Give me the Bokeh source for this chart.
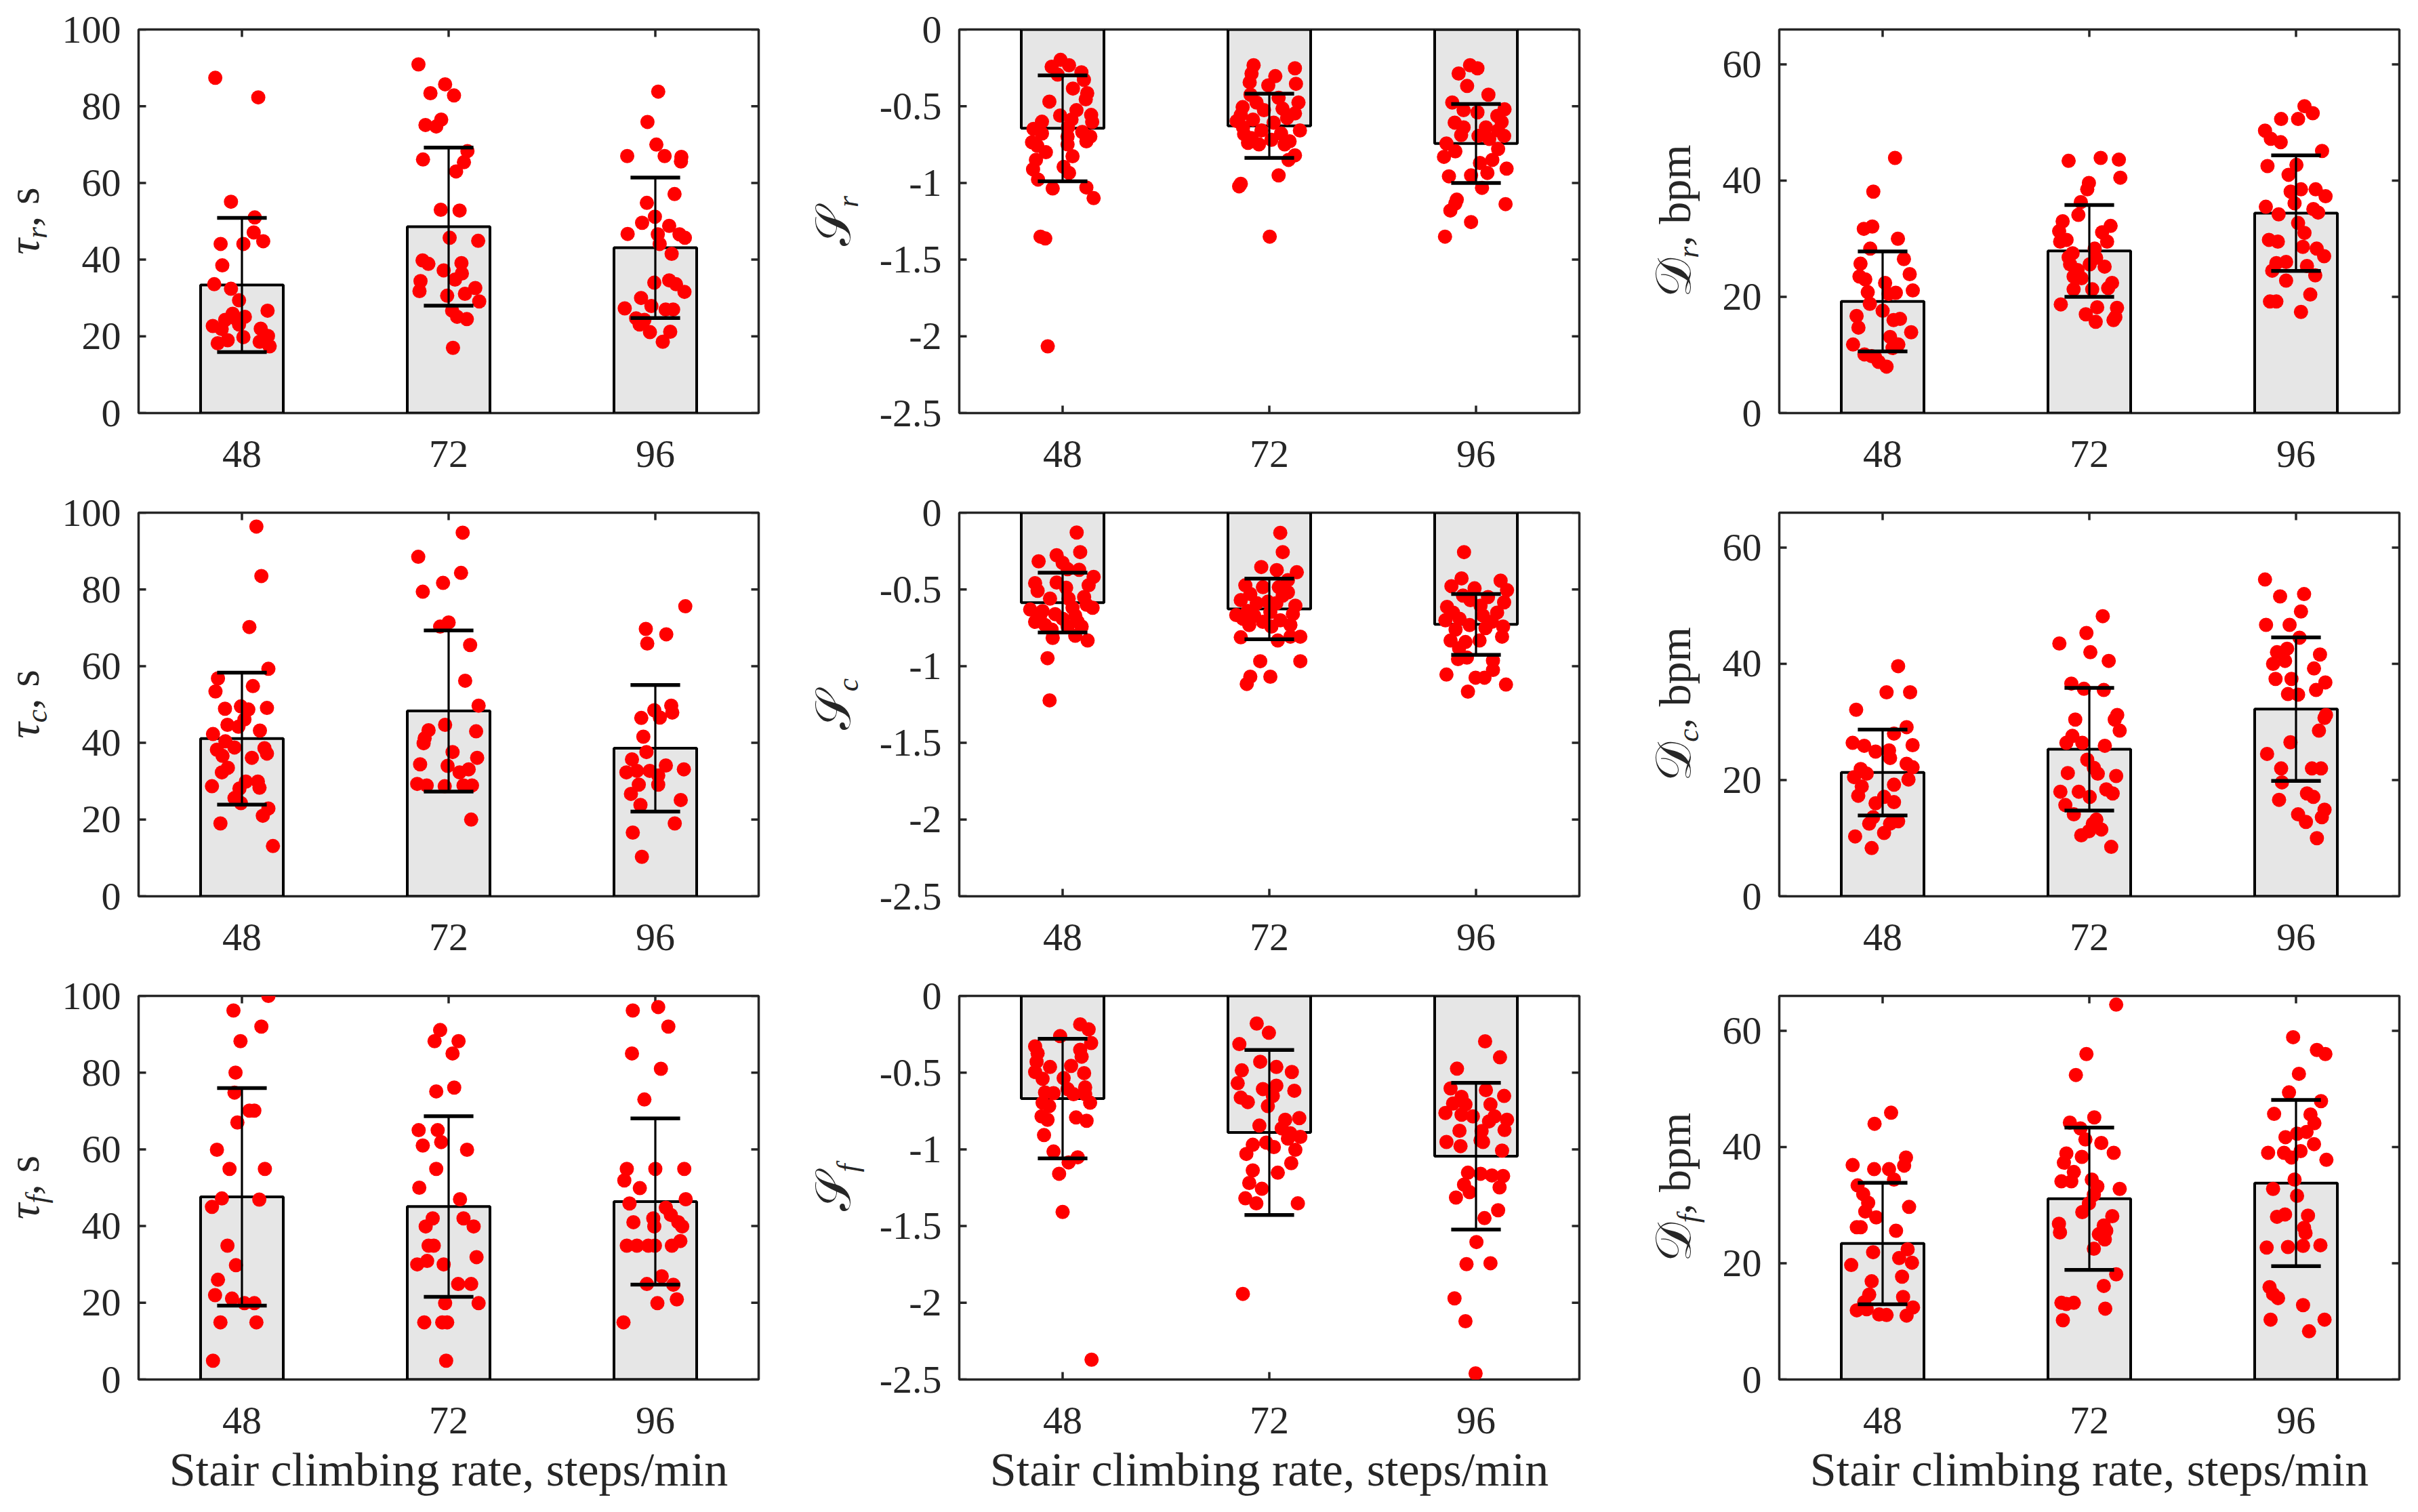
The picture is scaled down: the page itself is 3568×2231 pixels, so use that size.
from bokeh.plotting import figure
from bokeh.models import ColumnDataSource, FixedTicker, CustomJSTickFormatter, Range1d, Div
from bokeh.layouts import row, column
from bokeh.embed import file_html
from bokeh.resources import INLINE

# ---------------- data ----------------
rates = ["48", "72", "96"]
xlabel = "Stair climbing rate, steps/min"

tau_ticks = [0, 20, 40, 60, 80, 100]
s_ticks = [-2.5, -2, -1.5, -1, -0.5, 0]
d_ticks = [0, 20, 40, 60]

# tau_r
tau_r_mean = [33.4, 48.6, 43.1]
tau_r_sd = [17.5, 20.6, 18.3]
tau_r_vals = [
    [87.4, 82.3, 55.1, 51.0, 47.1, 44.1, 44.1, 44.8, 38.5, 33.6, 32.4, 29.4, 26.7, 25.9, 25.1, 24.3, 22.7, 21.9, 22.0, 19.8, 20.1, 18.2, 19.0, 18.6, 17.4, 23.1, 24.7],
    [90.9, 83.4, 85.7, 82.8, 75.1, 76.5, 74.7, 66.1, 68.3, 65.4, 63.0, 53.0, 52.8, 45.7, 44.9, 39.8, 38.9, 39.1, 37.2, 36.4, 34.4, 34.8, 31.8, 32.6, 31.1, 30.6, 29.1, 26.7, 25.1, 24.5, 17.0],
    [83.8, 75.9, 70.0, 67.0, 67.0, 66.8, 65.6, 57.1, 54.8, 51.2, 49.6, 48.8, 46.7, 46.6, 46.6, 45.7, 44.1, 41.5, 34.0, 34.6, 33.6, 31.6, 30.0, 27.9, 27.3, 27.0, 27.0, 24.7, 24.3, 23.1, 21.1, 21.2, 18.6],
]
tau_r_dx = [
    [-0.129, 0.079, -0.053, 0.062, 0.057, -0.103, 0.007, 0.103, -0.095, -0.134, -0.053, -0.014, 0.124, -0.045, 0.014, -0.081, -0.141, -0.098, 0.091, 0.007, 0.126, -0.117, -0.069, 0.086, 0.134, -0.014, -0.033],
    [-0.146, -0.088, -0.017, 0.026, -0.112, -0.036, -0.060, -0.124, 0.091, 0.074, 0.036, -0.038, 0.053, 0.005, 0.143, -0.126, -0.098, 0.062, -0.024, 0.064, -0.136, 0.031, -0.141, 0.129, 0.079, -0.007, 0.148, 0.017, 0.041, 0.088, 0.021],
    [0.014, -0.038, 0.005, -0.136, 0.045, 0.126, 0.124, 0.093, -0.041, -0.002, -0.064, 0.067, -0.134, 0.012, 0.117, 0.143, 0.021, 0.079, -0.005, 0.067, 0.100, 0.141, -0.069, -0.019, -0.148, 0.050, 0.086, -0.093, -0.053, -0.076, -0.026, 0.072, 0.036],
]

# S_r
s_r_mean = [-0.644, -0.628, -0.743]
s_r_sd = [0.345, 0.209, 0.257]
s_r_vals = [
    [-0.198, -0.243, -0.233, -0.294, -0.279, -0.328, -0.385, -0.415, -0.455, -0.470, -0.526, -0.561, -0.557, -0.587, -0.603, -0.601, -0.648, -0.638, -0.668, -0.678, -0.698, -0.698, -0.729, -0.735, -0.759, -0.749, -0.800, -0.826, -0.850, -0.895, -0.911, -0.935, -0.978, -1.036, -1.030, -1.099, -1.350, -1.362, -2.065],
    [-0.233, -0.287, -0.253, -0.304, -0.344, -0.354, -0.364, -0.425, -0.445, -0.476, -0.476, -0.506, -0.516, -0.526, -0.547, -0.557, -0.577, -0.587, -0.597, -0.607, -0.638, -0.658, -0.658, -0.682, -0.678, -0.708, -0.719, -0.729, -0.739, -0.749, -0.749, -0.820, -0.850, -1.006, -1.022, -0.951, -1.350],
    [-0.233, -0.253, -0.287, -0.368, -0.425, -0.476, -0.526, -0.520, -0.540, -0.563, -0.603, -0.607, -0.638, -0.638, -0.658, -0.688, -0.694, -0.694, -0.713, -0.743, -0.794, -0.779, -0.830, -0.850, -0.870, -0.907, -0.935, -0.957, -0.951, -1.032, -1.109, -1.134, -1.138, -1.180, -1.255, -1.350],
]
s_r_dx = [
    [-0.010, -0.053, 0.031, -0.024, 0.091, 0.103, 0.050, 0.119, 0.112, -0.064, 0.067, -0.012, 0.138, 0.043, 0.143, -0.100, -0.141, 0.026, 0.095, -0.100, 0.024, 0.134, 0.115, -0.148, -0.122, 0.024, -0.081, 0.048, -0.129, 0.005, -0.143, 0.031, -0.119, -0.048, 0.115, 0.150, -0.107, -0.084, -0.072],
    [-0.076, -0.086, 0.124, 0.029, -0.095, 0.129, -0.005, -0.091, 0.045, -0.062, 0.141, -0.129, 0.064, -0.026, 0.124, -0.138, 0.086, -0.079, -0.158, 0.021, -0.127, -0.038, 0.148, -0.122, 0.057, -0.086, 0.010, 0.098, -0.103, -0.050, 0.074, 0.124, 0.093, -0.138, -0.146, 0.045, 0.002],
    [-0.029, 0.007, -0.084, -0.043, 0.060, -0.115, -0.060, 0.138, 0.007, 0.103, 0.124, -0.103, 0.048, -0.060, 0.107, -0.072, 0.012, 0.136, 0.064, -0.143, -0.100, 0.107, -0.155, 0.079, 0.019, 0.148, 0.055, -0.131, -0.024, 0.029, -0.093, -0.100, 0.143, -0.124, -0.024, -0.150],
]

# D_r
d_r_mean = [19.2, 27.9, 34.4]
d_r_sd = [8.6, 7.9, 9.95]
d_r_vals = [
    [43.9, 38.1, 31.7, 32.1, 30.0, 28.3, 26.5, 25.7, 23.9, 23.5, 23.0, 22.4, 21.1, 20.8, 20.7, 20.5, 18.8, 17.6, 16.7, 16.2, 16.0, 14.7, 13.9, 13.1, 11.8, 11.8, 11.2, 10.1, 9.8, 8.8, 8.0, 9.6],
    [43.4, 43.9, 43.6, 40.5, 39.6, 38.5, 36.3, 34.1, 33.0, 32.2, 31.3, 31.1, 29.8, 29.5, 29.5, 28.3, 27.5, 26.8, 26.7, 25.6, 25.6, 25.2, 24.6, 23.5, 23.2, 22.4, 21.5, 21.3, 21.3, 18.7, 18.2, 18.1, 17.0, 16.5, 16.0, 15.7],
    [52.8, 51.6, 50.6, 50.6, 48.6, 47.2, 46.6, 45.1, 42.7, 42.5, 41.0, 38.5, 38.1, 38.5, 37.3, 36.1, 35.5, 35.1, 34.2, 34.5, 32.7, 31.0, 29.8, 29.5, 28.6, 28.3, 27.0, 26.0, 25.8, 25.3, 24.5, 23.7, 22.8, 20.4, 19.2, 19.2, 17.4],
]
d_r_dx = [
    [0.060, -0.045, -0.091, -0.050, 0.074, -0.060, 0.103, -0.107, 0.131, -0.112, -0.084, 0.012, 0.146, -0.072, 0.064, 0.029, -0.062, 0.000, -0.126, 0.084, 0.053, -0.117, 0.138, 0.036, -0.143, 0.076, 0.048, -0.088, -0.053, -0.019, 0.019, -0.036],
    [-0.100, 0.055, 0.143, 0.150, -0.002, -0.010, -0.041, -0.053, -0.129, 0.103, -0.146, 0.062, -0.110, -0.141, 0.086, 0.026, -0.081, -0.100, 0.033, -0.093, 0.002, 0.074, -0.057, -0.076, -0.038, 0.110, 0.091, -0.076, 0.014, -0.138, 0.038, 0.134, -0.017, 0.126, 0.117, 0.031],
    [0.041, 0.081, -0.072, 0.010, -0.150, -0.122, -0.074, 0.126, 0.002, -0.138, -0.036, 0.024, -0.026, 0.095, 0.143, -0.007, -0.146, 0.084, -0.084, 0.107, 0.010, 0.041, -0.131, -0.088, 0.033, 0.100, 0.136, -0.048, -0.095, 0.053, -0.115, 0.093, -0.048, 0.069, -0.126, -0.095, 0.024],
]

# tau_c
tau_c_mean = [41.1, 48.3, 38.6]
tau_c_sd = [17.2, 21.0, 16.5]
tau_c_vals = [
    [96.4, 83.5, 70.2, 59.3, 56.8, 53.4, 54.8, 48.9, 49.5, 48.7, 49.1, 46.1, 44.7, 44.2, 43.2, 42.3, 40.4, 38.2, 38.8, 38.6, 37.2, 36.6, 36.1, 33.5, 32.3, 29.9, 29.9, 28.7, 28.1, 28.3, 25.6, 24.3, 22.9, 21.0, 19.0, 13.1],
    [94.8, 88.5, 84.3, 81.7, 79.4, 71.4, 70.3, 65.5, 56.2, 49.7, 44.7, 43.3, 43.0, 41.2, 39.9, 37.6, 36.1, 34.4, 34.0, 33.1, 32.3, 29.3, 28.9, 28.7, 28.9, 28.9, 20.0],
    [75.6, 69.7, 68.3, 65.9, 49.7, 48.5, 47.9, 46.5, 46.6, 41.6, 37.6, 35.7, 34.1, 33.1, 32.7, 32.3, 32.7, 31.5, 29.1, 29.1, 26.7, 25.1, 23.8, 19.0, 16.6, 10.3],
]
tau_c_dx = [
    [0.070, 0.094, 0.036, 0.128, -0.116, -0.128, 0.053, -0.082, -0.005, 0.031, 0.121, 0.012, -0.070, -0.017, 0.087, -0.140, -0.080, -0.121, -0.036, 0.109, 0.121, -0.094, 0.048, -0.068, -0.097, 0.019, 0.077, -0.145, -0.012, 0.085, -0.036, -0.005, 0.128, 0.101, -0.104, 0.150],
    [0.068, -0.147, 0.060, -0.027, -0.125, 0.000, -0.041, 0.104, 0.080, 0.145, -0.017, -0.097, 0.133, -0.116, -0.121, 0.019, 0.138, -0.138, -0.005, 0.097, 0.053, -0.152, -0.106, -0.019, 0.072, 0.113, 0.109],
    [0.145, -0.046, 0.053, -0.039, 0.077, -0.005, 0.082, -0.068, 0.022, -0.058, -0.043, -0.113, 0.051, 0.138, -0.089, -0.140, -0.027, 0.014, -0.080, 0.014, -0.118, 0.123, -0.072, 0.094, -0.109, -0.065],
]

# S_c
s_c_mean = [-0.586, -0.627, -0.728]
s_c_sd = [0.195, 0.198, 0.198]
s_c_vals = [
    [-0.129, -0.257, -0.277, -0.317, -0.327, -0.372, -0.368, -0.418, -0.459, -0.455, -0.473, -0.489, -0.509, -0.560, -0.560, -0.550, -0.600, -0.631, -0.641, -0.620, -0.620, -0.661, -0.671, -0.671, -0.711, -0.691, -0.711, -0.732, -0.742, -0.742, -0.762, -0.802, -0.816, -0.833, -0.948, -1.223],
    [-0.131, -0.257, -0.354, -0.374, -0.388, -0.439, -0.473, -0.485, -0.485, -0.519, -0.530, -0.540, -0.570, -0.580, -0.590, -0.590, -0.606, -0.641, -0.647, -0.667, -0.671, -0.661, -0.691, -0.701, -0.711, -0.732, -0.732, -0.742, -0.812, -0.833, -0.808, -0.808, -0.968, -0.968, -1.069, -1.069, -1.116],
    [-0.257, -0.428, -0.443, -0.479, -0.493, -0.505, -0.540, -0.550, -0.584, -0.570, -0.614, -0.606, -0.651, -0.651, -0.691, -0.671, -0.701, -0.711, -0.732, -0.742, -0.762, -0.752, -0.833, -0.833, -0.808, -0.843, -0.883, -0.954, -0.944, -0.964, -1.025, -1.055, -1.075, -1.075, -1.120, -1.166],
]
s_c_dx = [
    [0.068, 0.085, -0.029, -0.116, 0.000, 0.080, 0.024, 0.150, -0.133, -0.029, 0.126, 0.017, -0.121, -0.061, 0.029, 0.104, 0.116, -0.157, -0.097, 0.048, 0.145, -0.036, -0.109, 0.061, -0.133, 0.000, 0.073, -0.085, 0.024, 0.092, -0.053, 0.061, -0.048, 0.121, -0.073, -0.063],
    [0.053, 0.065, -0.039, 0.036, 0.133, 0.090, -0.116, -0.031, 0.046, 0.090, -0.092, 0.065, -0.138, -0.007, -0.061, 0.034, 0.126, -0.104, 0.005, -0.160, -0.073, 0.114, -0.128, 0.053, -0.031, -0.097, 0.102, 0.010, -0.138, 0.041, 0.102, 0.150, -0.044, 0.150, -0.092, 0.005, -0.109],
    [-0.058, -0.070, 0.119, -0.119, -0.007, 0.150, -0.063, 0.058, 0.136, -0.027, -0.140, 0.022, -0.111, 0.102, -0.080, 0.034, -0.148, 0.077, -0.031, 0.131, -0.099, 0.046, -0.123, 0.017, 0.126, -0.051, -0.082, -0.087, -0.044, 0.082, 0.082, -0.143, -0.002, 0.041, 0.145, -0.039],
]

# D_c
d_c_mean = [21.3, 25.3, 32.2]
d_c_sd = [7.4, 10.55, 12.35]
d_c_vals = [
    [39.6, 35.1, 35.1, 32.1, 29.1, 28.0, 26.4, 25.9, 26.0, 24.9, 25.1, 23.8, 22.8, 22.2, 21.9, 21.1, 20.5, 20.1, 19.2, 18.9, 17.3, 17.1, 16.0, 16.2, 13.6, 12.5, 12.9, 12.5, 10.9, 10.3, 8.3],
    [48.2, 45.3, 43.5, 42.0, 40.5, 36.6, 35.7, 35.5, 30.4, 31.2, 30.4, 28.5, 27.6, 26.4, 26.4, 25.9, 23.5, 22.1, 21.2, 21.1, 20.7, 18.0, 18.0, 18.4, 17.7, 17.1, 15.7, 14.1, 13.2, 12.5, 11.5, 11.2, 10.5, 8.5],
    [54.5, 51.6, 52.0, 49.0, 46.7, 46.7, 44.5, 42.6, 42.0, 41.6, 40.5, 40.0, 39.2, 37.4, 37.4, 36.8, 35.5, 34.8, 34.7, 30.7, 31.2, 28.5, 26.5, 24.5, 22.0, 22.0, 22.0, 19.6, 16.6, 17.7, 17.1, 14.9, 13.6, 14.1, 12.8, 10.0],
]
d_c_dx = [
    [0.075, 0.019, 0.133, -0.128, 0.116, 0.055, -0.145, -0.089, 0.145, -0.034, 0.031, 0.036, 0.116, 0.145, -0.106, -0.077, -0.138, 0.125, 0.055, -0.101, -0.118, 0.007, -0.034, 0.055, -0.046, -0.065, 0.075, 0.036, 0.007, -0.133, -0.053],
    [0.065, -0.014, -0.145, 0.005, 0.094, -0.087, -0.026, 0.070, -0.068, 0.135, 0.123, 0.147, -0.082, -0.111, -0.034, 0.075, -0.010, 0.022, -0.104, 0.041, 0.130, -0.140, -0.051, 0.082, 0.113, 0.002, -0.116, -0.075, 0.034, 0.017, 0.058, -0.002, -0.039, 0.106],
    [-0.150, -0.077, 0.039, 0.024, -0.145, -0.031, 0.017, -0.043, -0.092, 0.116, -0.053, -0.111, 0.087, -0.099, -0.022, 0.142, 0.097, -0.039, 0.010, 0.138, 0.145, 0.111, -0.027, -0.140, -0.072, 0.077, 0.121, -0.068, -0.082, 0.053, 0.084, 0.138, 0.125, 0.010, 0.048, 0.101],
]

# tau_f
tau_f_mean = [47.6, 45.1, 46.4]
tau_f_sd = [28.35, 23.55, 21.65]
tau_f_vals = [
    [100.0, 96.2, 92.0, 88.2, 80.0, 74.8, 70.1, 70.1, 67.0, 59.9, 54.9, 54.9, 47.2, 46.9, 45.0, 34.9, 29.8, 26.0, 22.0, 21.1, 19.9, 19.9, 14.9, 14.9, 4.9],
    [91.1, 88.2, 88.2, 85.0, 76.1, 75.1, 65.0, 65.0, 61.0, 61.9, 59.9, 54.9, 50.0, 47.0, 42.0, 42.0, 39.9, 39.9, 34.9, 34.9, 31.9, 30.0, 30.9, 30.0, 24.9, 24.9, 19.9, 19.9, 14.9, 14.9, 14.9, 4.9],
    [96.2, 97.1, 92.0, 85.0, 81.0, 73.0, 54.9, 54.9, 54.9, 51.9, 49.9, 45.9, 47.0, 44.8, 42.0, 42.9, 41.0, 41.0, 39.9, 39.9, 34.9, 34.9, 34.9, 34.9, 34.9, 36.1, 26.9, 24.9, 24.7, 19.9, 20.9, 14.9],
]
tau_f_dx = [
    [0.128, -0.041, 0.094, -0.007, -0.031, -0.036, 0.036, 0.060, -0.022, -0.121, -0.060, 0.111, -0.097, 0.084, -0.145, -0.070, -0.029, -0.116, -0.130, -0.048, 0.012, 0.060, -0.104, 0.070, -0.140],
    [-0.041, -0.068, 0.048, 0.019, 0.027, -0.060, -0.145, -0.053, -0.125, -0.036, 0.089, -0.060, -0.142, 0.055, -0.077, 0.072, -0.111, 0.121, -0.097, -0.072, 0.135, -0.152, -0.104, -0.024, 0.046, 0.109, -0.017, 0.145, -0.118, -0.031, -0.007, -0.012],
    [-0.109, 0.014, 0.063, -0.113, 0.027, -0.053, -0.138, 0.000, 0.140, -0.150, -0.075, -0.125, 0.147, 0.051, -0.010, 0.075, 0.111, -0.106, -0.005, 0.130, -0.138, -0.089, -0.034, -0.002, 0.080, 0.121, 0.031, -0.041, 0.087, 0.010, 0.104, -0.154],
]

# S_f
s_f_mean = [-0.669, -0.890, -1.045]
s_f_sd = [0.39, 0.538, 0.478]
s_f_vals = [
    [-0.185, -0.218, -0.262, -0.307, -0.329, -0.351, -0.374, -0.396, -0.429, -0.463, -0.456, -0.496, -0.503, -0.540, -0.536, -0.607, -0.596, -0.629, -0.634, -0.641, -0.641, -0.696, -0.718, -0.696, -0.785, -0.807, -0.792, -0.814, -0.907, -1.014, -1.052, -1.085, -1.159, -1.408, -2.371],
    [-0.180, -0.240, -0.314, -0.429, -0.463, -0.485, -0.496, -0.569, -0.585, -0.607, -0.618, -0.652, -0.663, -0.692, -0.718, -0.796, -0.807, -0.845, -0.863, -0.896, -0.919, -0.930, -0.956, -0.970, -0.985, -1.003, -1.030, -1.090, -1.137, -1.152, -1.219, -1.257, -1.319, -1.352, -1.352, -1.942],
    [-0.296, -0.400, -0.474, -0.603, -0.614, -0.658, -0.652, -0.701, -0.707, -0.707, -0.763, -0.774, -0.785, -0.785, -0.807, -0.818, -0.879, -0.881, -0.874, -0.941, -0.952, -0.979, -0.952, -1.008, -1.152, -1.159, -1.170, -1.174, -1.230, -1.248, -1.279, -1.314, -1.397, -1.448, -1.604, -1.748, -1.742, -1.971, -2.120, -2.460],
]
s_f_dx = [
    [0.085, 0.126, -0.012, 0.138, -0.133, 0.085, -0.121, 0.092, -0.126, -0.061, 0.041, -0.133, 0.104, -0.097, 0.005, 0.024, 0.109, -0.085, -0.044, 0.053, 0.109, -0.097, -0.065, 0.133, -0.102, -0.073, 0.065, 0.116, -0.090, -0.044, 0.073, 0.029, -0.017, 0.000, 0.140],
    [-0.061, -0.002, -0.145, -0.044, 0.034, -0.133, 0.109, -0.153, 0.034, -0.031, 0.121, 0.017, -0.138, -0.104, -0.007, 0.145, 0.077, -0.048, 0.060, 0.102, 0.150, 0.090, -0.015, -0.080, 0.022, 0.126, -0.111, 0.106, -0.080, 0.041, -0.097, -0.036, -0.116, -0.063, 0.138, -0.128],
    [0.044, 0.116, -0.092, -0.123, 0.048, -0.070, 0.136, -0.111, -0.051, 0.070, -0.148, -0.070, -0.015, 0.090, 0.150, 0.063, -0.080, 0.027, 0.138, 0.022, -0.143, -0.075, 0.034, 0.126, -0.039, 0.022, 0.077, 0.131, -0.058, 0.114, -0.031, -0.097, 0.107, 0.041, 0.002, -0.046, 0.070, -0.104, -0.051, -0.002],
]

# D_f
d_f_mean = [23.4, 31.1, 33.8]
d_f_sd = [10.45, 12.25, 14.3]
d_f_vals = [
    [45.9, 44.0, 38.2, 36.9, 36.2, 36.2, 36.8, 34.4, 33.4, 31.9, 30.4, 29.7, 28.9, 27.9, 26.2, 26.2, 25.6, 22.4, 21.9, 20.9, 20.1, 19.7, 17.7, 16.9, 14.2, 14.6, 13.3, 11.9, 12.1, 12.4, 11.2, 11.1, 11.0],
    [64.5, 56.0, 52.4, 45.1, 44.2, 43.2, 41.3, 40.7, 38.9, 39.0, 38.3, 37.3, 35.7, 34.4, 34.1, 34.1, 33.2, 32.8, 31.8, 30.3, 28.8, 28.1, 26.8, 26.5, 25.3, 25.6, 25.0, 24.1, 22.5, 18.1, 16.1, 13.2, 13.0, 13.2, 12.2, 10.2],
    [58.9, 56.7, 56.0, 52.6, 49.4, 47.9, 45.7, 45.6, 44.1, 42.6, 42.3, 41.7, 40.5, 39.0, 39.0, 39.3, 38.2, 37.8, 34.4, 32.8, 31.6, 28.4, 28.0, 28.2, 26.1, 25.2, 22.7, 22.8, 23.0, 23.1, 15.9, 14.7, 14.0, 12.8, 10.3, 10.3, 8.3],
]
d_f_dx = [
    [0.041, -0.039, 0.113, -0.145, -0.041, 0.031, 0.104, 0.055, -0.121, -0.094, -0.070, 0.128, -0.084, -0.031, -0.125, -0.106, 0.065, 0.121, -0.046, 0.080, 0.142, -0.152, 0.094, -0.053, 0.099, -0.065, -0.089, -0.125, -0.077, 0.147, -0.017, 0.019, 0.116],
    [0.130, -0.014, -0.065, 0.024, -0.094, -0.043, -0.019, 0.058, -0.111, 0.118, -0.036, -0.123, -0.075, 0.012, -0.135, -0.087, 0.039, 0.147, 0.022, -0.002, -0.034, 0.111, -0.147, 0.070, -0.142, 0.082, 0.046, 0.075, 0.022, 0.130, 0.070, -0.135, -0.111, -0.075, 0.077, -0.128],
    [-0.014, 0.101, 0.142, 0.014, -0.034, 0.121, -0.106, 0.070, 0.089, 0.051, 0.005, -0.051, 0.087, -0.135, -0.058, 0.022, -0.022, 0.147, -0.007, -0.111, 0.005, -0.053, -0.092, 0.058, 0.039, 0.046, -0.142, -0.039, 0.034, 0.118, -0.128, -0.111, -0.087, 0.034, -0.123, 0.138, 0.063],
]

phases = ["r", "c", "f"]

# ---------------- layout / style ----------------
FONT = "Liberation Serif"
AX = "#262626"
FRAME_W, FRAME_H = 915, 566
TL = 11  # inward tick length, px

LAB_W = [84, 142, 175]      # label strip widths
P_LEFT = [120, 131, 98]     # plot borders
P_RIGHT = [23, 22, 8]
ROW_TOP = [43, 36, 36]
ROW_BOT = [111, 111, 178]
ROW_H = [ROW_TOP[i] + FRAME_H + ROW_BOT[i] for i in range(3)]

SUB = '<span style="font-style:italic;font-size:0.66em;vertical-align:-0.28em;line-height:0">{}</span>'
kinds = [
    dict(ylim=(0, 100), ticks=tau_ticks, base=-147, size=66,
         label='<span style="font-style:italic">τ</span>' + SUB + ', s'),
    dict(ylim=(-2.5, 0), ticks=s_ticks, base=-163, size=66,
         label='<span style="font-size:1.1em">𝒮</span>' + SUB),
    dict(ylim=(0, 66), ticks=d_ticks, base=-133, size=66,
         label='<span style="font-size:1.1em">𝒟</span>' + SUB + ', bpm'),
]

data = [
    [(tau_r_mean, tau_r_sd, tau_r_vals, tau_r_dx), (s_r_mean, s_r_sd, s_r_vals, s_r_dx), (d_r_mean, d_r_sd, d_r_vals, d_r_dx)],
    [(tau_c_mean, tau_c_sd, tau_c_vals, tau_c_dx), (s_c_mean, s_c_sd, s_c_vals, s_c_dx), (d_c_mean, d_c_sd, d_c_vals, d_c_dx)],
    [(tau_f_mean, tau_f_sd, tau_f_vals, tau_f_dx), (s_f_mean, s_f_sd, s_f_vals, s_f_dx), (d_f_mean, d_f_sd, d_f_vals, d_f_dx)],
]


def make_plot(r, c):
    kind = kinds[c]
    means, sds, vals, dxs = data[r][c]
    y0, y1 = kind["ylim"]
    W = P_LEFT[c] + FRAME_W + P_RIGHT[c]
    p = figure(width=W, height=ROW_H[r],
               x_range=Range1d(0.5, 3.5), y_range=Range1d(y0, y1),
               output_backend="svg", toolbar_location=None,
               min_border_left=P_LEFT[c], min_border_right=P_RIGHT[c],
               min_border_top=ROW_TOP[r], min_border_bottom=ROW_BOT[r])
    p.xgrid.visible = False
    p.ygrid.visible = False
    p.background_fill_color = "white"
    p.border_fill_color = "white"
    p.outline_line_color = AX
    p.outline_line_width = 3.5

    xpos = [i + 1 for i in range(len(rates))]
    for ax in (p.below[0], p.left[0]):
        ax.axis_line_color = None
        ax.major_tick_line_color = None
        ax.minor_tick_line_color = None
        ax.major_tick_in = 0
        ax.major_tick_out = 0
        ax.major_label_text_font = FONT
        ax.major_label_text_font_size = "58px"
        ax.major_label_text_color = AX
    bx = p.below[0]
    bx.ticker = FixedTicker(ticks=xpos)
    bx.formatter = CustomJSTickFormatter(args=dict(labels=rates),
                                         code="return labels[Math.round(tick) - 1];")
    bx.major_label_standoff = 41
    ly = p.left[0]
    ly.ticker = FixedTicker(ticks=kind["ticks"])
    ly.formatter = CustomJSTickFormatter(code="return (Math.round(tick*100)/100).toString();")
    ly.major_label_standoff = 26

    if r == 2:
        bx.axis_label = xlabel
        bx.axis_label_text_font = FONT
        bx.axis_label_text_font_style = "normal"
        bx.axis_label_text_font_size = "70px"
        bx.axis_label_text_color = AX
        bx.axis_label_standoff = 12

    kx = 3.0 / FRAME_W
    ky = (y1 - y0) / FRAME_H
    # inward ticks on all four sides (under the bars, as in the original)
    yt = kind["ticks"]
    p.segment(x0=xpos, x1=xpos, y0=[y0] * 3, y1=[y0 + TL * ky] * 3, line_color=AX, line_width=3.5)
    p.segment(x0=xpos, x1=xpos, y0=[y1] * 3, y1=[y1 - TL * ky] * 3, line_color=AX, line_width=3.5)
    p.segment(x0=[0.5] * len(yt), x1=[0.5 + TL * kx] * len(yt), y0=yt, y1=yt, line_color=AX, line_width=3.5)
    p.segment(x0=[3.5] * len(yt), x1=[3.5 - TL * kx] * len(yt), y0=yt, y1=yt, line_color=AX, line_width=3.5)

    # bars
    p.vbar(x=xpos, width=0.4, bottom=0, top=means,
           fill_color="#e6e6e6", line_color="black", line_width=4)

    # individual points
    px, py = [], []
    for i, (vs, ds) in enumerate(zip(vals, dxs)):
        for v, d in zip(vs, ds):
            px.append(xpos[i] + d)
            py.append(v)
    p.scatter(x="x", y="y", source=ColumnDataSource(dict(x=px, y=py)),
              size=21, fill_color="#ff0000", line_color=None)

    # error bars
    lo = [m - s for m, s in zip(means, sds)]
    hi = [m + s for m, s in zip(means, sds)]
    p.segment(x0=xpos, y0=lo, x1=xpos, y1=hi, line_color="black", line_width=3.2)
    cap = 0.12
    p.segment(x0=[x - cap for x in xpos], x1=[x + cap for x in xpos], y0=hi, y1=hi,
              line_color="black", line_width=5.5)
    p.segment(x0=[x - cap for x in xpos], x1=[x + cap for x in xpos], y0=lo, y1=lo,
              line_color="black", line_width=5.5)
    return p


def make_label(r, c):
    """Strip left of a panel holding its rotated y label (real text with a real subscript)."""
    kind = kinds[c]
    W, H = LAB_W[c], ROW_H[r]
    F = kind["size"]
    baseline = W + P_LEFT[c] + kind["base"]      # x of the text baseline inside the strip
    xc = baseline - 0.3375 * F                   # centre of the rotated line box
    yc = ROW_TOP[r] + FRAME_H / 2                # centred on the panel frame
    html = (
        f'<div style="position:relative;width:{W}px;height:{H}px;overflow:visible;">'
        f'<div style="position:absolute;left:{xc:.1f}px;top:{yc:.1f}px;'
        f'transform:translate(-50%,-50%) rotate(-90deg);white-space:nowrap;'
        f"font-family:'{FONT}';font-size:{F}px;line-height:1;color:{AX};\">"
        f'{kind["label"].format(phases[r])}</div></div>'
    )
    return Div(text=html, width=W, height=H, margin=0, styles={"overflow": "visible"})


rows = []
for r in range(3):
    items = []
    for c in range(3):
        items.append(make_label(r, c))
        items.append(make_plot(r, c))
    rows.append(row(items, spacing=0))

layout = column(rows, spacing=0)

open("out.html", "w").write(file_html(layout, INLINE))
